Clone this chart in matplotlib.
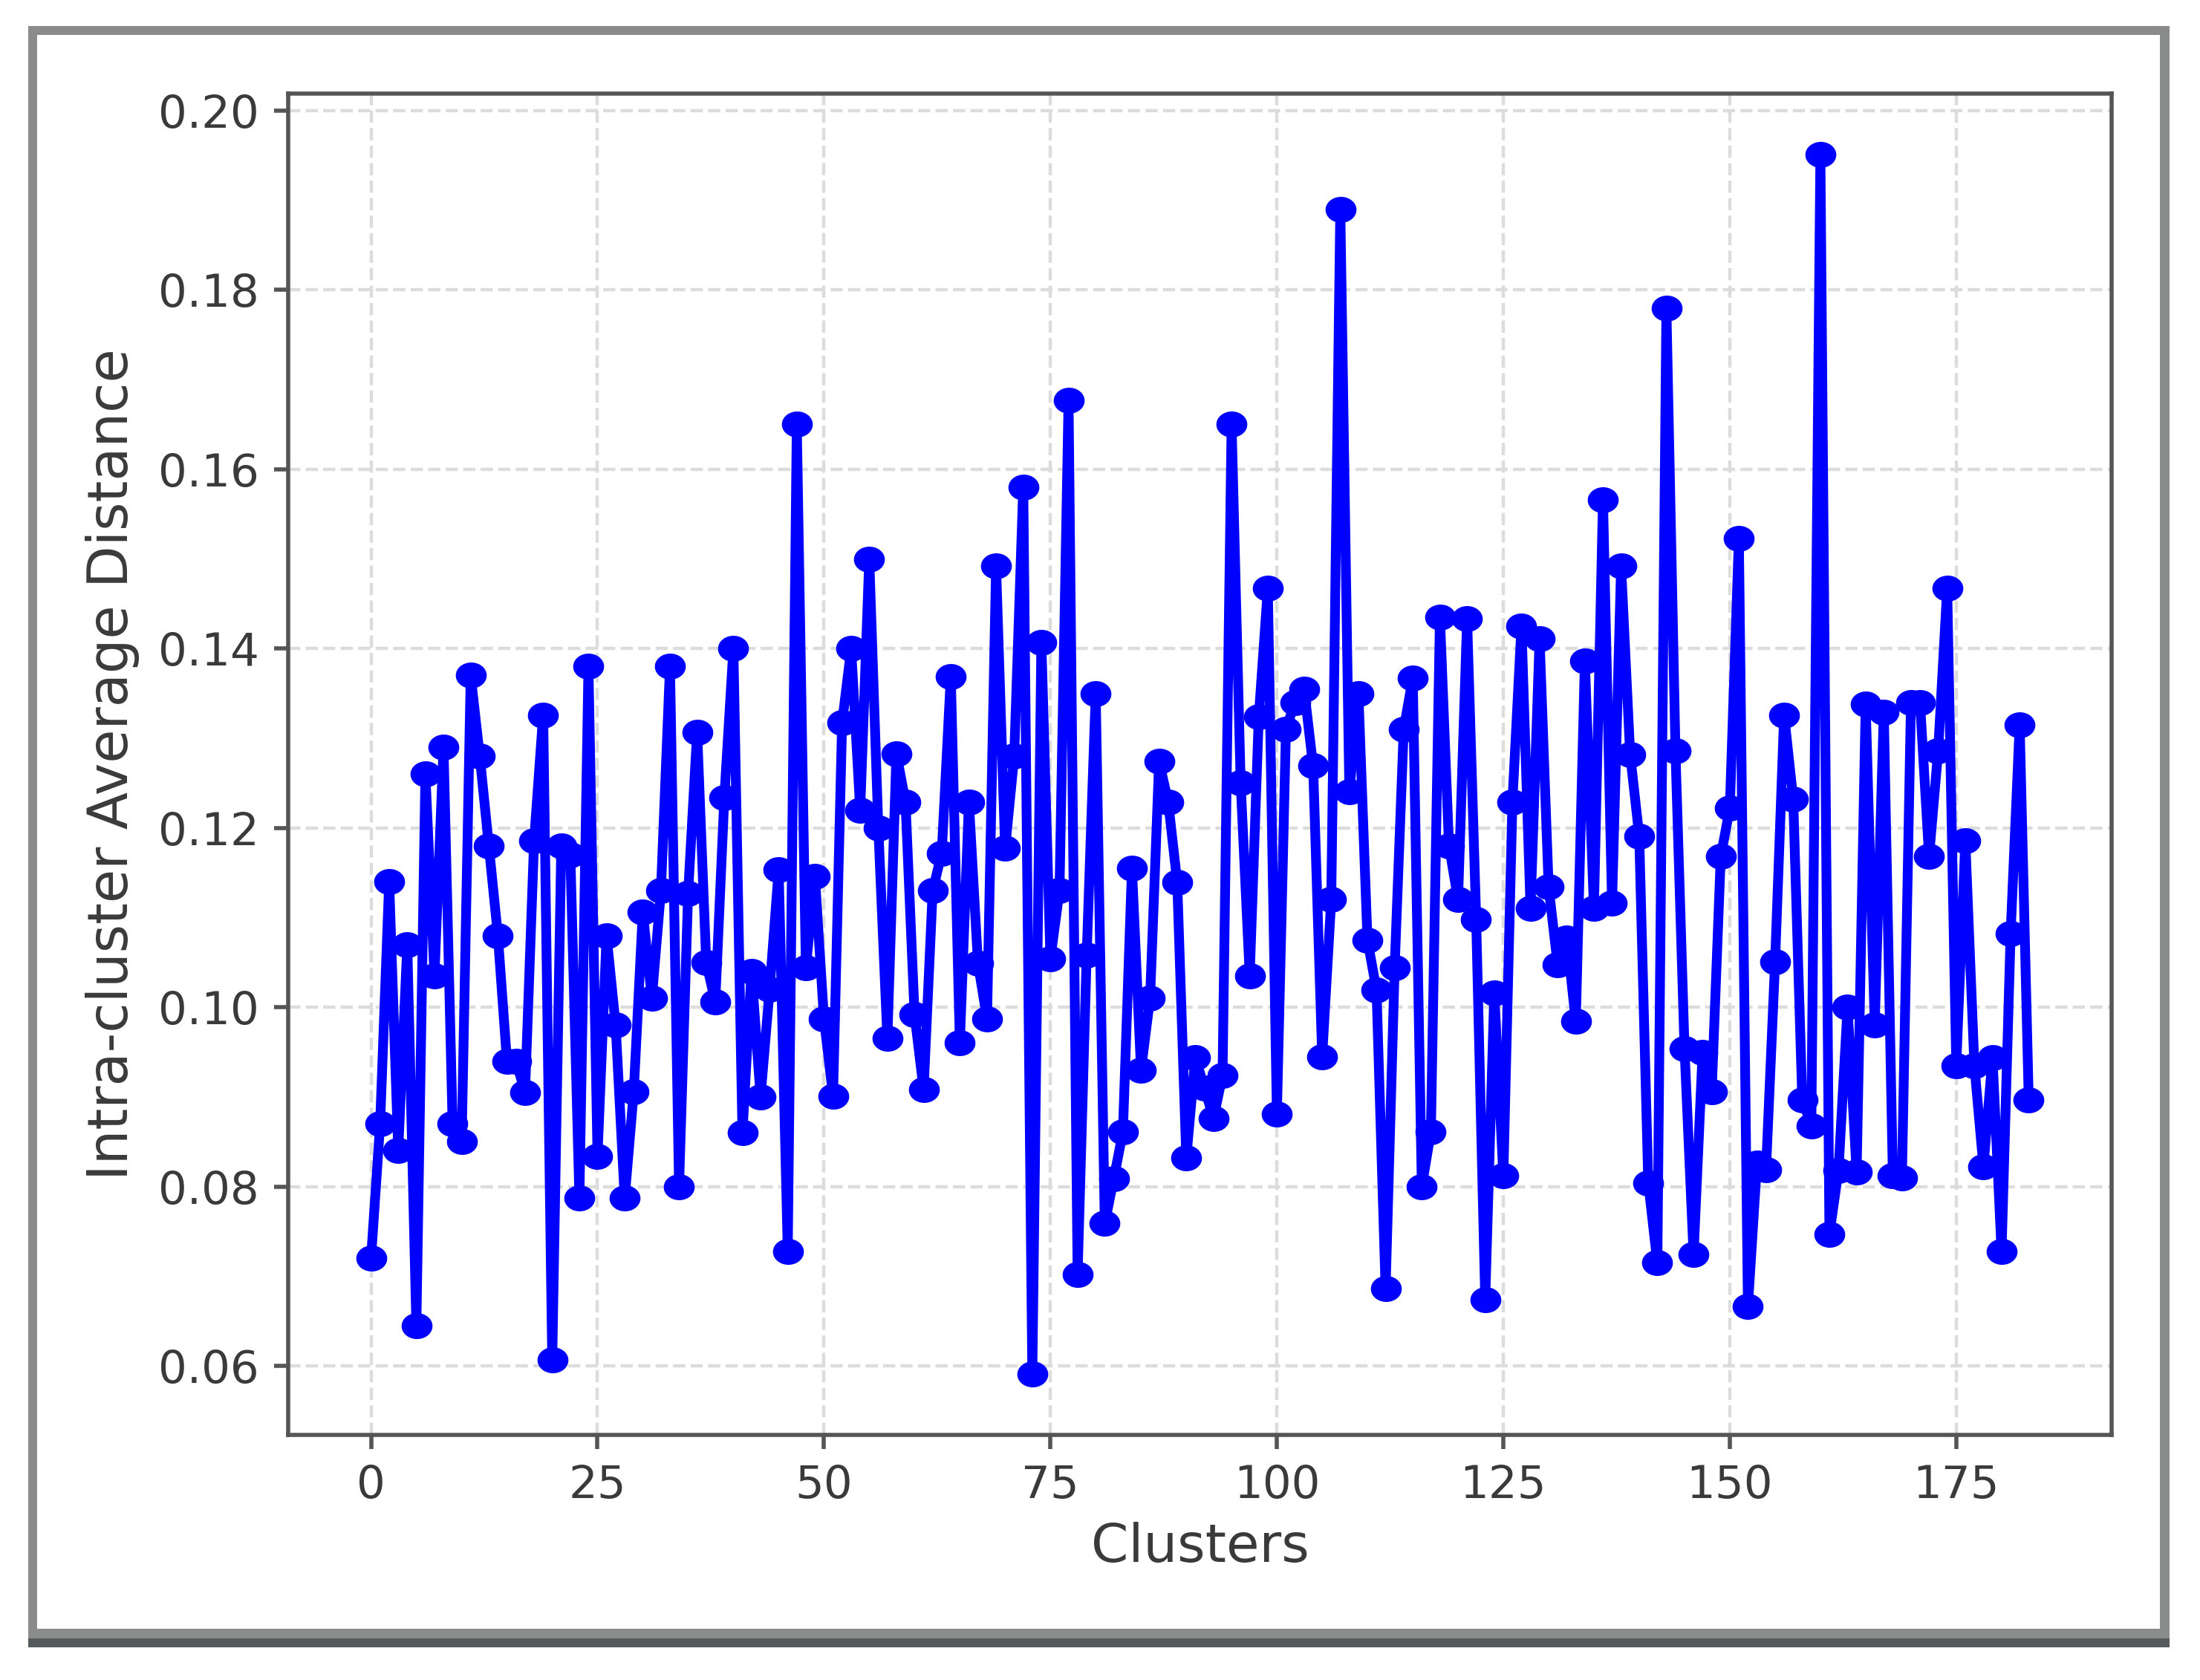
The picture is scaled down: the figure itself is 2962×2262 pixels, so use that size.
import matplotlib
matplotlib.use("Agg")
import numpy as np
import matplotlib.pyplot as plt
from matplotlib.patches import Rectangle
from matplotlib.path import Path

# Data: intra-cluster average distance for each cluster index
clusters = list(range(184))
distances = [
    0.072, 0.087, 0.114, 0.084, 0.107, 0.0645, 0.126, 0.1035, 0.129, 0.087,
    0.085, 0.137, 0.128, 0.118, 0.108, 0.094, 0.094, 0.0905, 0.1186, 0.1326,
    0.0607, 0.118, 0.117, 0.0787, 0.138, 0.0834, 0.108, 0.098, 0.0787, 0.0906,
    0.1106, 0.101, 0.113, 0.138, 0.080, 0.1127, 0.1307, 0.105, 0.1006, 0.1234,
    0.140, 0.086, 0.104, 0.090, 0.102, 0.1153, 0.0728, 0.165, 0.1044, 0.1146,
    0.0987, 0.0901, 0.1317, 0.140, 0.122, 0.150, 0.120, 0.0965, 0.1283, 0.1229,
    0.0992, 0.0908, 0.113, 0.1172, 0.1369, 0.096, 0.1229, 0.1049, 0.0987, 0.1492,
    0.1177, 0.128, 0.158, 0.0591, 0.1407, 0.1054, 0.113, 0.1677, 0.0702, 0.1058,
    0.135, 0.0759, 0.0809, 0.0861, 0.1155, 0.093, 0.101, 0.1274, 0.1229, 0.1139,
    0.0832, 0.0944, 0.091, 0.0876, 0.0924, 0.165, 0.125, 0.1035, 0.1324, 0.1467,
    0.0881, 0.131, 0.134, 0.1355, 0.1269, 0.0945, 0.112, 0.189, 0.124, 0.135,
    0.1075, 0.1019, 0.0686, 0.1044, 0.131, 0.1367, 0.080, 0.0861, 0.1435, 0.118,
    0.112, 0.1433, 0.1098, 0.0674, 0.1016, 0.0812, 0.1229, 0.1425, 0.111, 0.1411,
    0.1134, 0.1047, 0.1077, 0.0984, 0.1386, 0.111, 0.1566, 0.1116, 0.1492, 0.1282,
    0.1191, 0.0804, 0.0715, 0.178, 0.1286, 0.0954, 0.0724, 0.095, 0.0906, 0.1168,
    0.1222, 0.1523, 0.0666, 0.0826, 0.0819, 0.1051, 0.1326, 0.1232, 0.0897, 0.0868,
    0.1951, 0.0747, 0.0818, 0.100, 0.0816, 0.1338, 0.098, 0.1329, 0.0812, 0.081,
    0.134, 0.134, 0.1168, 0.1286, 0.1467, 0.0935, 0.1186, 0.0935, 0.0822, 0.0944,
    0.0728, 0.1082, 0.1315, 0.0897,
]
x_ticks = [0, 25, 50, 75, 100, 125, 150, 175]
y_ticks = [0.06, 0.08, 0.10, 0.12, 0.14, 0.16, 0.18, 0.20]
x_label = "Clusters"
y_label = "Intra-cluster Average Distance"

W, H = 2962, 2262
DPI = 100
fig = plt.figure(figsize=(W / DPI, H / DPI), dpi=DPI)
fig.patch.set_facecolor("white")

def px_rect(x0, y0, x1, y1, color):
    fig.add_artist(Rectangle((x0 / W, 1 - y1 / H), (x1 - x0) / W, (y1 - y0) / H,
                             transform=fig.transFigure, facecolor=color,
                             edgecolor="none", zorder=0))

# outer screenshot frame
frame = "#8a8c8c"
px_rect(38, 35, 2921, 47, frame)        # top
px_rect(38, 35, 50, 2218, frame)        # left
px_rect(2908, 35, 2921, 2218, frame)    # right
px_rect(38, 2193, 2921, 2206, frame)    # bottom
px_rect(38, 2206, 2921, 2218, "#555a5c")  # bottom shadow

ax_l, ax_r, ax_t, ax_b = 388, 2843, 126, 1932
ax = fig.add_axes([ax_l / W, 1 - ax_b / H, (ax_r - ax_l) / W, (ax_b - ax_t) / H])

# slightly wide elliptical marker (the source image is stretched horizontally)
t = np.linspace(0, 2 * np.pi, 60)
ellipse = Path(np.column_stack([1.2 * np.cos(t), np.sin(t)]), closed=True)

ax.plot(clusters, distances, color="#0000ff", linestyle="-", linewidth=9.5,
        marker=ellipse, markersize=29, zorder=3)

ax.set_xticks(x_ticks)
ax.set_yticks(y_ticks)
ax.set_yticklabels([f"{v:.2f}" for v in y_ticks])
ax.margins(x=0.05, y=0.05)

ax.grid(True, linestyle="--", linewidth=3.2, color="#dcdcdc")
ax.set_axisbelow(True)

for s in ax.spines.values():
    s.set_color("#555555")
    s.set_linewidth(4)

ax.tick_params(axis="both", which="major", length=14, width=4, color="#555555",
               labelsize=44, labelcolor="#3a3a3a", pad=14)

ax.set_xlabel(x_label, fontsize=52, color="#3a3a3a", labelpad=14)
ax.set_ylabel(y_label, fontsize=53, color="#3a3a3a", labelpad=18)

fig.savefig("out.png", dpi=DPI, facecolor="white")
